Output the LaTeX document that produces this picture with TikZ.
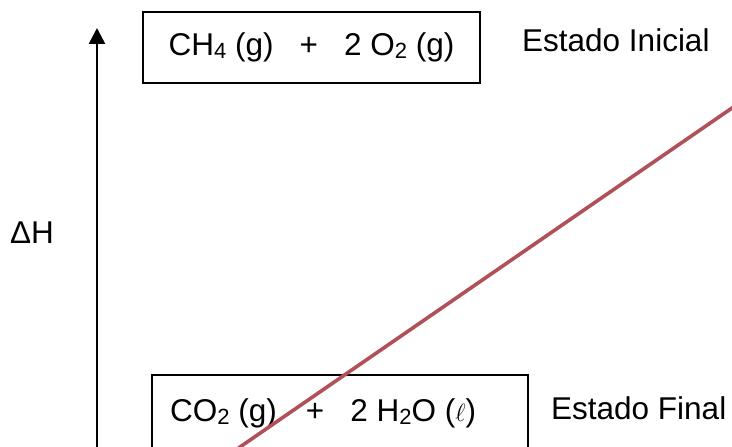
\documentclass[tikz,border=0pt]{standalone}
\usepackage{fontspec}
\setmainfont{Liberation Sans}
\usetikzlibrary{arrows.meta}
\definecolor{lineRed}{RGB}{178,80,90}
\newcommand\chsub[1]{\raisebox{-3pt}{\fontsize{22}{22}\selectfont #1}}
\begin{document}
\begin{tikzpicture}[x=1pt,y=1pt,
  every node/.style={font=\fontsize{31.5}{36}\selectfont, inner sep=0pt},
  statebox/.style={draw=black, line width=1.2pt, rectangle},
  label/.style={anchor=base west}]
\useasboundingbox (0,0) rectangle (732,447);
% axis arrow
\coordinate (abot) at (97,-5);
\coordinate (atop) at (97,419);
\draw[line width=2.6pt, -{Triangle[length=16pt,width=16pt]}] (abot) -- (atop);
\node (dh) at (32,214) {\char"0394H};
% top box
\node[statebox, minimum width=337pt, minimum height=71pt] (top) at (311.5,399.5)
  {CH\chsub{4} (g)\hspace{26pt}+\hspace{26pt}2 O\chsub{2} (g)};
\node[label] (ini) at (522,395) {Estado Inicial};
% bottom box
\node[statebox, minimum width=376pt, minimum height=80pt] (bot) at (340,32) {};
\node[anchor=base west] (bottxt) at (170,25.5)
  {CO\chsub{2} (g)\hspace{29pt}+\hspace{26pt}2 H\chsub{2}O ($\ell$)};
\node[label] (fin) at (551,27) {Estado Final};
% red line
\coordinate (r1) at (232,-5.5);
\coordinate (r2) at (740,344.5);
\draw[lineRed, line width=3.6pt] (r1) -- (r2);
\end{tikzpicture}
\end{document}
